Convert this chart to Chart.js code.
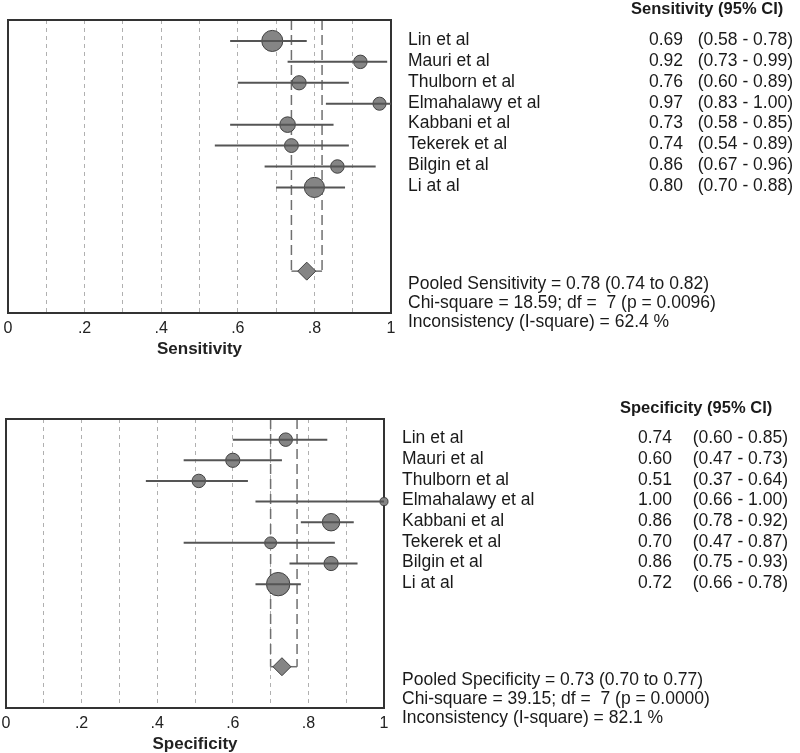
<!DOCTYPE html>
<html>
<head>
<meta charset="utf-8">
<script src="https://cdn.jsdelivr.net/npm/chart.js@4"></script>
<style>
  html, body { margin: 0; padding: 0; background: #fff; }
  #wrap { position: relative; width: 800px; height: 753px; }
  canvas { position: absolute; left: 0; }
  #sensChart { top: 0; }
  #specChart { top: 399px; }
</style>
</head>
<body>
<div id="wrap">
  <canvas id="sensChart" width="800" height="375"></canvas>
  <canvas id="specChart" width="800" height="354"></canvas>
</div>
<script>
// studies, same order in both panels
const studies = ['Lin et al', 'Mauri et al', 'Thulborn et al', 'Elmahalawy et al',
                 'Kabbani et al', 'Tekerek et al', 'Bilgin et al', 'Li at al'];

// sensitivity + 95% CI
const sensEst  = [0.69, 0.92, 0.76, 0.97, 0.73, 0.74, 0.86, 0.80];
const sensLow  = [0.58, 0.73, 0.60, 0.83, 0.58, 0.54, 0.67, 0.70];
const sensHigh = [0.78, 0.99, 0.89, 1.00, 0.85, 0.89, 0.96, 0.88];
const sensWeight = [22, 9, 10, 8.5, 12, 9.5, 9, 20];   // study weight (marker area)
const sensPooled = [0.78, 0.74, 0.82];                  // estimate, low, high
const sensStats = ['Pooled Sensitivity = 0.78 (0.74 to 0.82)',
                   'Chi-square = 18.59; df =  7 (p = 0.0096)',
                   'Inconsistency (I-square) = 62.4 %'];

// specificity + 95% CI
const specEst  = [0.74, 0.60, 0.51, 1.00, 0.86, 0.70, 0.86, 0.72];
const specLow  = [0.60, 0.47, 0.37, 0.66, 0.78, 0.47, 0.75, 0.66];
const specHigh = [0.85, 0.73, 0.64, 1.00, 0.92, 0.87, 0.93, 0.78];
const specWeight = [9, 10, 9, 3.2, 15, 7, 10, 27];
const specPooled = [0.73, 0.70, 0.77];
const specStats = ['Pooled Specificity = 0.73 (0.70 to 0.77)',
                   'Chi-square = 39.15; df =  7 (p = 0.0000)',
                   'Inconsistency (I-square) = 82.1 %'];

// x axis
const tickValues = [0, 0.2, 0.4, 0.6, 0.8, 1];
const tickLabels = ['0', '.2', '.4', '.6', '.8', '1'];

const pooledRow = 11;
const FONT = "'Liberation Sans', Arial, sans-serif";

const fmt = v => v.toFixed(2);

function forest(id, p) {
  const extras = {
    id: 'forestExtras',
    beforeDatasetsDraw(chart) {
      const { ctx, chartArea: a, scales: { x, y } } = chart;
      const yTop = y.getPixelForValue(-1), yP = y.getPixelForValue(pooledRow);
      const xl = x.getPixelForValue(p.pooled[1]), xh = x.getPixelForValue(p.pooled[2]);
      ctx.save();
      ctx.strokeStyle = '#707070';
      ctx.lineWidth = 1.5;
      ctx.setLineDash([10, 5]);
      ctx.beginPath();
      ctx.moveTo(xl, yTop); ctx.lineTo(xl, yP);
      ctx.moveTo(xh, yTop); ctx.lineTo(xh, yP);
      ctx.stroke();
      ctx.setLineDash([]);
      ctx.beginPath();
      ctx.moveTo(xl, yP); ctx.lineTo(xh, yP);
      ctx.stroke();
      // frame
      ctx.strokeStyle = '#333';
      ctx.lineWidth = 2;
      ctx.strokeRect(a.left, a.top, a.right - a.left, a.bottom - a.top);
      ctx.restore();
    },
    afterDatasetsDraw(chart) {
      const { ctx, scales: { x, y } } = chart;
      ctx.save();
      ctx.strokeStyle = '#555';
      ctx.lineWidth = 2;
      p.est.forEach((v, i) => {
        const py = y.getPixelForValue(i);
        ctx.beginPath();
        ctx.moveTo(x.getPixelForValue(p.low[i]), py);
        ctx.lineTo(x.getPixelForValue(p.high[i]), py);
        ctx.stroke();
      });
      ctx.restore();
    },
    afterDraw(chart) {
      const { ctx, scales: { y } } = chart;
      const t = p.text;
      ctx.save();
      ctx.fillStyle = '#1a1a1a';
      ctx.textBaseline = 'middle';
      ctx.font = 'bold 16.5px ' + FONT;
      ctx.textAlign = 'left';
      ctx.fillText(p.header, t.head, y.getPixelForValue(-1.5));
      ctx.font = '17.5px ' + FONT;
      studies.forEach((s, i) => {
        const py = y.getPixelForValue(i) - 1;
        ctx.textAlign = 'left';
        ctx.fillText(s, t.name, py);
        ctx.textAlign = 'right';
        ctx.fillText(fmt(p.est[i]), t.est, py);
        ctx.fillText('(' + fmt(p.low[i]) + ' - ' + fmt(p.high[i]) + ')', t.ci, py);
      });
      ctx.textAlign = 'left';
      const yP = y.getPixelForValue(pooledRow);
      p.stats.forEach((s, k) => ctx.fillText(s, t.name, yP + 13 + k * 19));
      ctx.restore();
    }
  };

  return new Chart(document.getElementById(id), {
    type: 'scatter',
    data: {
      datasets: [{
        data: p.est.map((v, i) => ({ x: v, y: i })),
        pointStyle: 'circle',
        pointRadius: p.weight.map(w => 2.25 * Math.sqrt(w)),
        backgroundColor: '#858585',
        borderColor: '#404040',
        borderWidth: 1,
        clip: false
      }, {
        data: [{ x: p.pooled[0], y: pooledRow }],
        pointStyle: 'rectRot',
        pointRadius: 9,
        backgroundColor: '#858585',
        borderColor: '#404040',
        borderWidth: 1,
        clip: false
      }]
    },
    options: {
      responsive: false,
      animation: false,
      layout: {
        autoPadding: false,
        padding: { left: p.left, right: 800 - p.right, top: 20, bottom: p.bottomPad }
      },
      plugins: { legend: { display: false }, tooltip: { enabled: false } },
      scales: {
        x: {
          type: 'linear', min: 0, max: 1,
          afterFit: s => { s.paddingLeft = 0; s.paddingRight = 0; },
          grid: {
            color: c => (c.tick && c.tick.value > 0.01 && c.tick.value < 0.99) ? '#b0b0b0' : 'rgba(0,0,0,0)',
            lineWidth: 1,
            drawTicks: false
          },
          border: { display: false, dash: [4, 4] },
          ticks: {
            stepSize: 0.1, autoSkip: false, maxRotation: 0, padding: 7.5,
            color: '#222',
            font: { family: FONT, size: 16, lineHeight: 1 },
            callback: v => {
              const k = tickValues.findIndex(t => Math.abs(t - v) < 1e-6);
              return k < 0 ? '' : tickLabels[k];
            }
          },
          title: {
            display: true, text: p.axisTitle, color: '#222',
            font: { family: FONT, size: 17, weight: 'bold', lineHeight: 1 },
            padding: { top: -3, bottom: 0 }
          }
        },
        y: { type: 'linear', min: -1, max: 13, reverse: true, display: false }
      }
    },
    plugins: [extras]
  });
}

window.onload = function () {
  forest('sensChart', {
    est: sensEst, low: sensLow, high: sensHigh, weight: sensWeight,
    pooled: sensPooled, stats: sensStats,
    header: 'Sensitivity (95% CI)', axisTitle: 'Sensitivity',
    left: 8, right: 391, bottomPad: 17,
    text: { name: 408, est: 683, ci: 793, head: 631 }
  });
  forest('specChart', {
    est: specEst, low: specLow, high: specHigh, weight: specWeight,
    pooled: specPooled, stats: specStats,
    header: 'Specificity (95% CI)', axisTitle: 'Specificity',
    left: 6, right: 384, bottomPad: 0,
    text: { name: 402, est: 672, ci: 788, head: 620 }
  });
};
</script>
</body>
</html>
